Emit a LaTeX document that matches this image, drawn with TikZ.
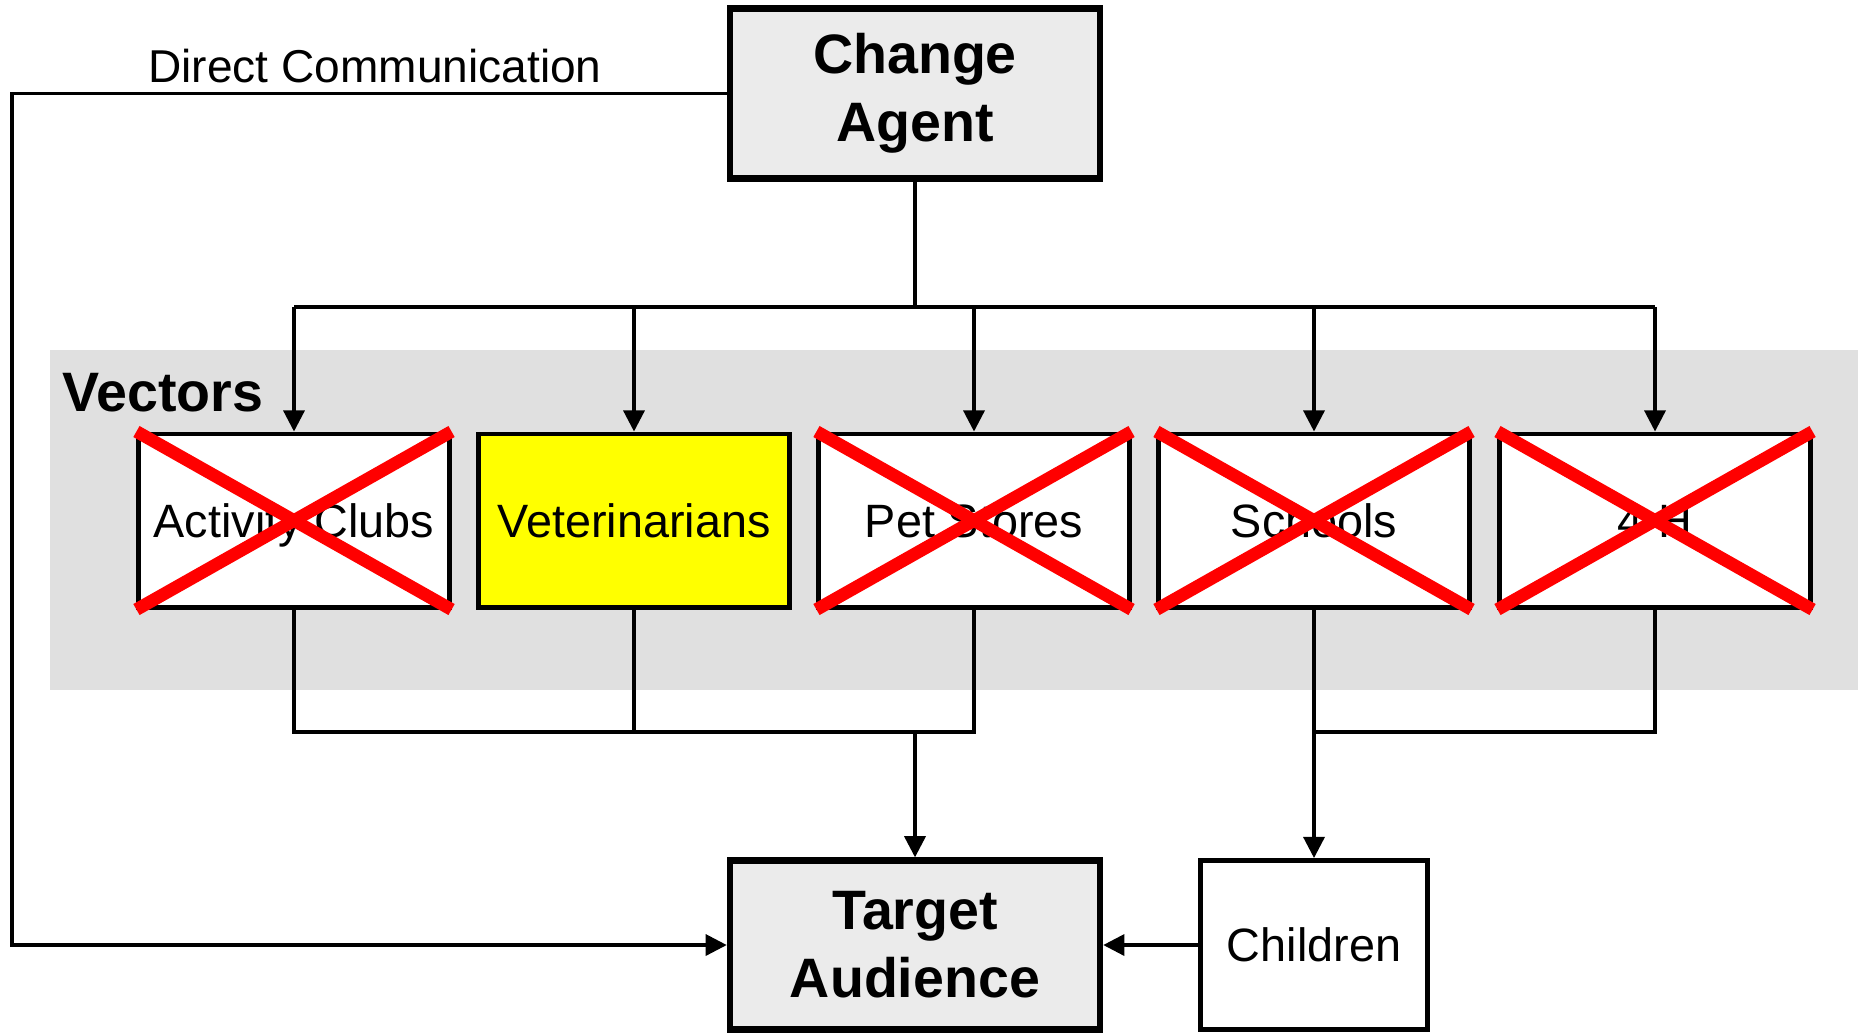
\documentclass[tikz,border=0pt]{standalone}
\usepackage{fontspec}
\setmainfont{Liberation Sans}
\usepackage{tikz}
\usetikzlibrary{arrows.meta,positioning}

\definecolor{bandgray}{HTML}{E0E0E0}
\definecolor{boxgray}{HTML}{EBEBEB}
\definecolor{crossred}{HTML}{FF0000}
\definecolor{vetyellow}{HTML}{FFFF00}

\tikzset{
  mainbox/.style={draw, fill=boxgray, line width=1.8pt, minimum width=3.7cm, minimum height=1.7cm,
    align=center, inner sep=2pt, font=\fontsize{15.8}{19.3}\selectfont\bfseries},
  vecbox/.style={draw, fill=white, line width=1.4pt, minimum width=3.1cm, minimum height=1.73cm,
    inner sep=2pt, text height=9.6pt, text depth=0pt, font=\fontsize{13.3}{16}\selectfont},
  link/.style={line width=0.9pt},
  arrowlink/.style={link, -{Triangle[length=6pt,width=6pt]}},
  crossline/.style={crossred, line width=3.6pt}
}

\begin{document}
\begin{tikzpicture}[x=0.01cm, y=0.01cm]
			\useasboundingbox [fill=white] (0,0) rectangle (1858,-1032);
			% shaded band behind the vectors
			\fill [bandgray] (50,-350) rectangle (1858,-690);
			\node [anchor=west, font=\fontsize{15.8}{19}\selectfont\bfseries] (veclabel) at (50,-393) {Vectors};
			\node [mainbox] (agent) at (915,-93.5) {Change\\Agent};
			\node [mainbox, minimum height=1.69cm] (target) at (915,-945) {Target\\Audience};
			\node [vecbox, minimum width=2.27cm, minimum height=1.69cm] (children) at (1314,-945) {Children};
			\node [vecbox] (v1) at (294,-520.5) {Activity Clubs};
			\node [vecbox, fill=vetyellow] (v2) at (634,-520.5) {Veterinarians};
			\node [vecbox] (v3) at (974,-520.5) {Pet Stores};
			\node [vecbox] (v4) at (1314,-520.5) {Schools};
			\node [vecbox] (v5) at (1655,-520.5) {4-H};
			\coordinate (bus) at (915,-307);
			\coordinate (merge) at (915,-732);
			\coordinate (corner) at (12,-93.5);
			% direct route
			\draw [arrowlink] (agent.west) -- (corner) |- (target.west);
			\node [font=\fontsize{13.1}{16}\selectfont] (dclabel) at (375,-66) {Direct Communication};
			% change agent to the vectors
			\draw [link] (agent.south) -- (bus);
			\draw [link] (v1 |- bus) -- (v5 |- bus);
			\foreach \n in {v1,v2,v3,v4,v5}
				\draw [arrowlink] (\n |- bus) -- (\n.north);
			% vectors to the audience
			\draw [link] (v1.south) -- (v1 |- merge) -- (v3 |- merge) -- (v3.south);
			\draw [link] (v2.south) -- (v2 |- merge);
			\draw [arrowlink] (merge) -- (target.north);
			\draw [link] (v5.south) |- (v4 |- merge);
			\draw [arrowlink] (v4.south) -- (children.north);
			\draw [arrowlink] (children.west) -- (target.east);
			% struck out vectors
			\foreach \n in {v1,v3,v4,v5} {
				\draw [crossline] (\n.north west) -- (\n.south east);
				\draw [crossline] (\n.south west) -- (\n.north east);
			}
\end{tikzpicture}
\end{document}
